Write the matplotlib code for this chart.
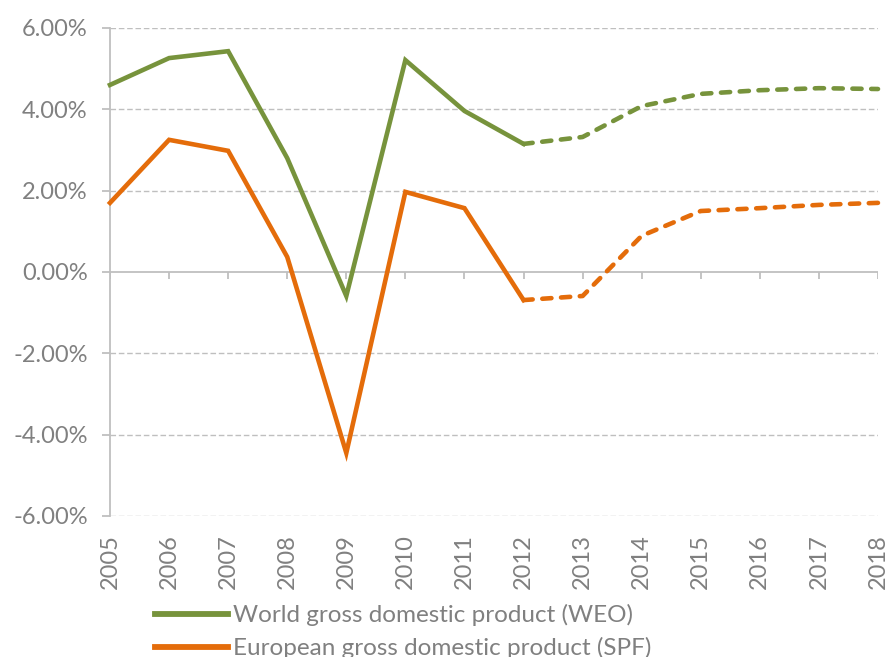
import matplotlib
matplotlib.use("Agg")
import matplotlib.pyplot as plt
from matplotlib.ticker import FuncFormatter

# dados
years = [2005, 2006, 2007, 2008, 2009, 2010, 2011, 2012, 2013, 2014, 2015, 2016, 2017, 2018]
world = [4.60, 5.26, 5.43, 2.80, -0.59, 5.21, 3.96, 3.15, 3.32, 4.08, 4.38, 4.47, 4.52, 4.50]
europe = [1.70, 3.25, 2.98, 0.37, -4.45, 1.97, 1.57, -0.69, -0.59, 0.89, 1.50, 1.57, 1.65, 1.70]
last_actual = 2012  # a partir daqui: previsao (tracejado)
yticks = [-6, -4, -2, 0, 2, 4, 6]

green = "#77933C"
orange = "#E46C0A"
grey = "#808080"
grid_grey = "#BFBFBF"

plt.rcParams["font.family"] = ["Lato", "DejaVu Sans"]

fig = plt.figure(figsize=(8.91, 6.57), dpi=100)
ax = fig.add_axes([110 / 891, 141 / 657, 768 / 891, 488 / 657])

k = years.index(last_actual)
lw = 3.3
dash = (0, (2.0, 2.1))
for vals, col, lab in [(world, green, "World gross domestic product (WEO)"),
                       (europe, orange, "European gross domestic product (SPF)")]:
    ax.plot(years[:k + 1], vals[:k + 1], color=col, lw=lw, label=lab,
            solid_joinstyle="miter", clip_on=False, zorder=3)
    ax.plot(years[k:], vals[k:], color=col, lw=lw, linestyle=dash,
            dash_capstyle="round", clip_on=False, zorder=3)

ax.set_xlim(years[0], years[-1])
ax.set_ylim(yticks[0], yticks[-1])
ax.set_yticks(yticks)
ax.yaxis.set_major_formatter(FuncFormatter(lambda v, p: f"{v:.2f}%"))
ax.set_xticks(years)
ax.set_xticklabels([str(y) for y in years], rotation=90)

# grade tracejada
for v in yticks:
    if v != 0:
        ax.axhline(v, color=grid_grey, lw=1, linestyle=(0, (4, 2)), zorder=1)
ax.axhline(0, color=grid_grey, lw=1.3, zorder=2)
# tiques do eixo x no zero
ax.vlines(years, 0, -0.17, color=grid_grey, lw=1.3, zorder=2)

for s in ["top", "right", "bottom"]:
    ax.spines[s].set_visible(False)
ax.spines["left"].set_color(grid_grey)
ax.spines["left"].set_linewidth(1.3)
ax.tick_params(axis="y", colors=grid_grey, length=6, width=1.3, labelcolor=grey,
               labelsize=17, pad=10)
ax.tick_params(axis="x", length=0, labelcolor=grey, labelsize=17, pad=13)

fig.legend(loc="upper left", bbox_to_anchor=(155 / 891, 1 - 604 / 657), frameon=False,
           fontsize=17.5, handlelength=3.0, handletextpad=0.2, labelspacing=0.45,
           labelcolor=grey, borderaxespad=0, borderpad=0)
for h in fig.legends[0].get_lines():
    h.set_linewidth(4.2)

fig.savefig("out.png", dpi=100)
